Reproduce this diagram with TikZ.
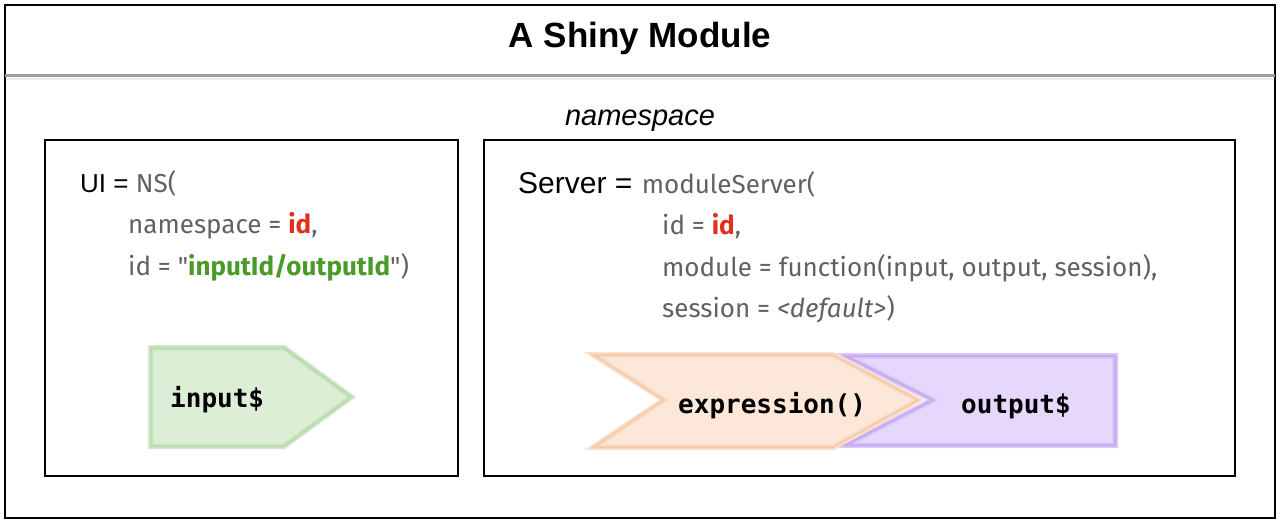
\documentclass[tikz,border=0pt]{standalone}
\usepackage{fontspec}
\setmainfont{Liberation Sans}
\newfontfamily\codefont{Fira Sans}
\newfontfamily\monofont{DejaVu Sans Mono}
\definecolor{codegray}{HTML}{616161}
\definecolor{idred}{HTML}{E0301E}
\definecolor{idgreen}{HTML}{4A9A2A}
\definecolor{grfill}{HTML}{DDEED6}
\definecolor{grline}{HTML}{BBDCB2}
\definecolor{grband}{HTML}{D3E8CB}
\definecolor{orfill}{HTML}{FCE7D8}
\definecolor{orline}{HTML}{F5CDAE}
\definecolor{orband}{HTML}{FAE0CD}
\definecolor{pufill}{HTML}{E6D8FC}
\definecolor{puline}{HTML}{C8ABF0}
\definecolor{puband}{HTML}{DCCBF8}
\tikzset{
  frame/.style={draw=black, line width=2.5pt},
  panel/.style={draw=black, line width=2pt},
  txt/.style={inner sep=0pt, anchor=base west},
  codetxt/.style={txt, font=\codefont\fontsize{26}{30}\selectfont, text=codegray},
  monotxt/.style={inner sep=0pt, font=\monofont\bfseries\fontsize{26}{30}\selectfont},
}
\begin{document}
\begin{tikzpicture}[x=1pt,y=-1pt]
\useasboundingbox (0,0) rectangle (1280,522);
% outer frame
\draw[frame] (5,5) rectangle (1275,518);
\draw[line width=3pt, color=black!38] (5,75) -- (1275,75);
\draw[line width=2pt, color=black!7] (7,78.5) -- (1273,78.5);
\node[txt, anchor=base, font=\bfseries\fontsize{35}{40}\selectfont] (title) at (640,47) {A Shiny Module};
\node[txt, anchor=base, font=\itshape\fontsize{29}{34}\selectfont] (ns) at (640,125) {namespace};
% panels
\draw[panel] (45,140) rectangle (458,476);
\draw[panel] (484,140) rectangle (1235,476);
% UI text
\node[txt, font=\fontsize{26}{30}\selectfont] (ui) at (80,192) {UI =};
\node[codetxt] (uins) at (ui.base east) {\ NS(};
\node[codetxt] (uil2) at (128,233) {namespace = \textcolor{idred}{\bfseries id},};
\node[codetxt] (uil3) at (128,275) {id = "\textcolor{idgreen}{\bfseries inputId/outputId}")};
% Server text
\node[txt, font=\fontsize{30}{35}\selectfont] (srv) at (518,193) {Server =};
\node[codetxt] (srvms) at ([xshift=9pt]srv.base east) {moduleServer(};
\node[codetxt] (sl2) at (662,234) {id = \textcolor{idred}{\bfseries id},};
\node[codetxt] (sl3) at (662,276) {module = function(input, output, session),};
\node[codetxt] (sl4) at (662,317) {session = \textit{<default>})};
% input$ shape
\draw[draw=grband, line width=6pt, fill=grfill, line join=miter]
  (151,348) -- (284,348) -- (351,397) -- (284,446) -- (151,446) -- cycle;
\draw[draw=grline, line width=2.5pt, line join=miter]
  (151,348) -- (284,348) -- (351,397) -- (284,446) -- (151,446) -- cycle;
\node[monotxt, anchor=west] (inp) at (170,400) {input\$};
% output$ shape (behind)
\draw[draw=puband, line width=6pt, fill=pufill, line join=miter]
  (846,356) -- (1115,356) -- (1115,445) -- (846,445) -- (933,400) -- cycle;
\draw[draw=puline, line width=2.5pt, line join=miter]
  (846,356) -- (1115,356) -- (1115,445) -- (846,445) -- (933,400) -- cycle;
% expression() shape
\draw[draw=orband, line width=6pt, fill=orfill, line join=miter]
  (594,355) -- (833,355) -- (918,400) -- (833,447) -- (594,447) -- (664,400) -- cycle;
\draw[draw=orline, line width=2.5pt, line join=miter]
  (594,355) -- (833,355) -- (918,400) -- (833,447) -- (594,447) -- (664,400) -- cycle;
\node[monotxt, anchor=west] (expr) at (678,406) {expression()};
\node[monotxt, anchor=west] (outp) at (961,406) {output\$};
\end{tikzpicture}
\end{document}
